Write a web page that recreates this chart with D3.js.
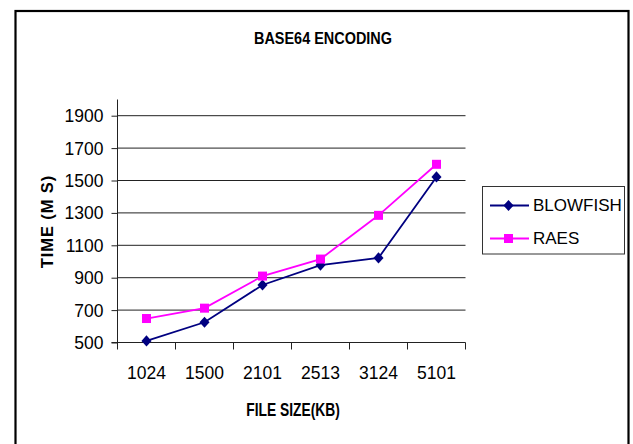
<!DOCTYPE html>
<html>
<head>
<meta charset="utf-8">
<script src="https://cdn.jsdelivr.net/npm/d3@7"></script>
<style>
  html, body { margin: 0; padding: 0; background: #fff; }
  svg text { font-family: "Liberation Sans", Arial, sans-serif; fill: #000; }
</style>
</head>
<body>
<svg id="chart" width="633" height="444"></svg>
<script>
// ---- data ----
const categories = ["1024", "1500", "2101", "2513", "3124", "5101"];
const blowfish = [510, 625, 855, 978, 1022, 1522];
const raes = [648, 712, 910, 1015, 1285, 1600];
const yTicks = [500, 700, 900, 1100, 1300, 1500, 1700, 1900];
const seriesNames = ["BLOWFISH", "RAES"];
const titleText = "BASE64 ENCODING";
const xTitle = "FILE SIZE(KB)";
const yTitle = "TIME (M S)";

const svg = d3.select("#chart");

// outer frame
svg.append("rect")
  .attr("x", 15.5).attr("y", 11).attr("width", 613).attr("height", 460)
  .attr("fill", "none").attr("stroke", "#000").attr("stroke-width", 2.2);

const x = d3.scaleBand().domain(categories).range([117.5, 465.5]);
const y = d3.scaleLinear().domain([500, 2000]).range([342.5, 99.5]);

// gridlines
svg.append("g").selectAll("line").data(yTicks.slice(1)).join("line")
  .attr("x1", 117.5).attr("x2", 465.5)
  .attr("y1", d => y(d)).attr("y2", d => y(d))
  .attr("stroke", "#222").attr("stroke-width", 1);

// y axis
const yAxis = d3.axisLeft(y).tickValues(yTicks).tickFormat(d3.format("d")).tickSize(6).tickPadding(8);
const gy = svg.append("g").attr("transform", "translate(117.5,0)").call(yAxis);
gy.select(".domain").attr("stroke", "#222").attr("d", `M0,${y(2000)}V${y(500) + 7}`);
gy.selectAll(".tick line").attr("stroke", "#222");
gy.selectAll(".tick text").attr("font-size", 17.5).attr("font-family", "Liberation Sans, Arial, sans-serif")
  .attr("fill", "#000").attr("dy", "0.34em");

// x axis
const xAxis = d3.axisBottom(x).tickSize(0).tickPadding(0);
const gx = svg.append("g").attr("transform", `translate(0,${y(500)})`).call(xAxis);
gx.select(".domain").attr("stroke", "#222").attr("d", `M${117.5 - 6},0H465.5`);
gx.selectAll(".tick text").attr("font-size", 17.5).attr("font-family", "Liberation Sans, Arial, sans-serif")
  .attr("fill", "#000").attr("y", 36.5).attr("dy", 0);
// category boundary ticks
const bounds = categories.map(c => x(c)).concat([x(categories[categories.length - 1]) + x.bandwidth()]);
gx.append("g").selectAll("line").data(bounds.slice(1)).join("line")
  .attr("x1", d => d).attr("x2", d => d).attr("y1", 0).attr("y2", 7)
  .attr("stroke", "#222");

// series
const cx = c => x(c) + x.bandwidth() / 2;
const line = d3.line().x((d, i) => cx(categories[i])).y(d => y(d));

function drawSeries(vals, color, marker) {
  svg.append("path").datum(vals).attr("d", line)
    .attr("fill", "none").attr("stroke", color).attr("stroke-width", 1.8);
  const g = svg.append("g");
  vals.forEach((v, i) => drawMarker(g, cx(categories[i]), y(v), color, marker));
}
function drawMarker(g, px, py, color, marker) {
  if (marker === "diamond") {
    const r = 5.6;
    g.append("path").attr("d", `M${px},${py - r}L${px + r * 0.9},${py}L${px},${py + r}L${px - r * 0.9},${py}Z`)
      .attr("fill", color);
  } else {
    const s = 9;
    g.append("rect").attr("x", px - s / 2).attr("y", py - s / 2).attr("width", s).attr("height", s)
      .attr("fill", color);
  }
}
drawSeries(blowfish, "#000080", "diamond");
drawSeries(raes, "#FF00FF", "square");

// title
svg.append("text").attr("transform", "translate(323,43.5) scale(0.85,1)")
  .attr("text-anchor", "middle").attr("font-weight", "bold").attr("font-size", 17)
  .text(titleText);

// x title
svg.append("text").attr("transform", "translate(293,416) scale(0.79,1)")
  .attr("text-anchor", "middle").attr("font-weight", "bold").attr("font-size", 17.5)
  .text(xTitle);

// y title
svg.append("text").attr("transform", "translate(53,221.5) rotate(-90)")
  .attr("text-anchor", "middle").attr("font-weight", "bold").attr("font-size", 16.5)
  .attr("letter-spacing", 0.9)
  .text(yTitle);

// legend
const lg = svg.append("g");
lg.append("rect").attr("x", 482.5).attr("y", 186.5).attr("width", 142).attr("height", 67.5)
  .attr("fill", "#fff").attr("stroke", "#333").attr("stroke-width", 1);
const legendColors = ["#000080", "#FF00FF"];
const legendMarkers = ["diamond", "square"];
const legendY = [205.5, 238.5];
seriesNames.forEach((name, i) => {
  lg.append("line").attr("x1", 490).attr("x2", 529).attr("y1", legendY[i]).attr("y2", legendY[i])
    .attr("stroke", legendColors[i]).attr("stroke-width", 1.8);
  drawMarker(lg, 508.5, legendY[i], legendColors[i], legendMarkers[i]);
  lg.append("text").attr("x", 533).attr("y", legendY[i]).attr("dy", "0.35em")
    .attr("font-size", 17).text(name);
});
</script>
</body>
</html>
